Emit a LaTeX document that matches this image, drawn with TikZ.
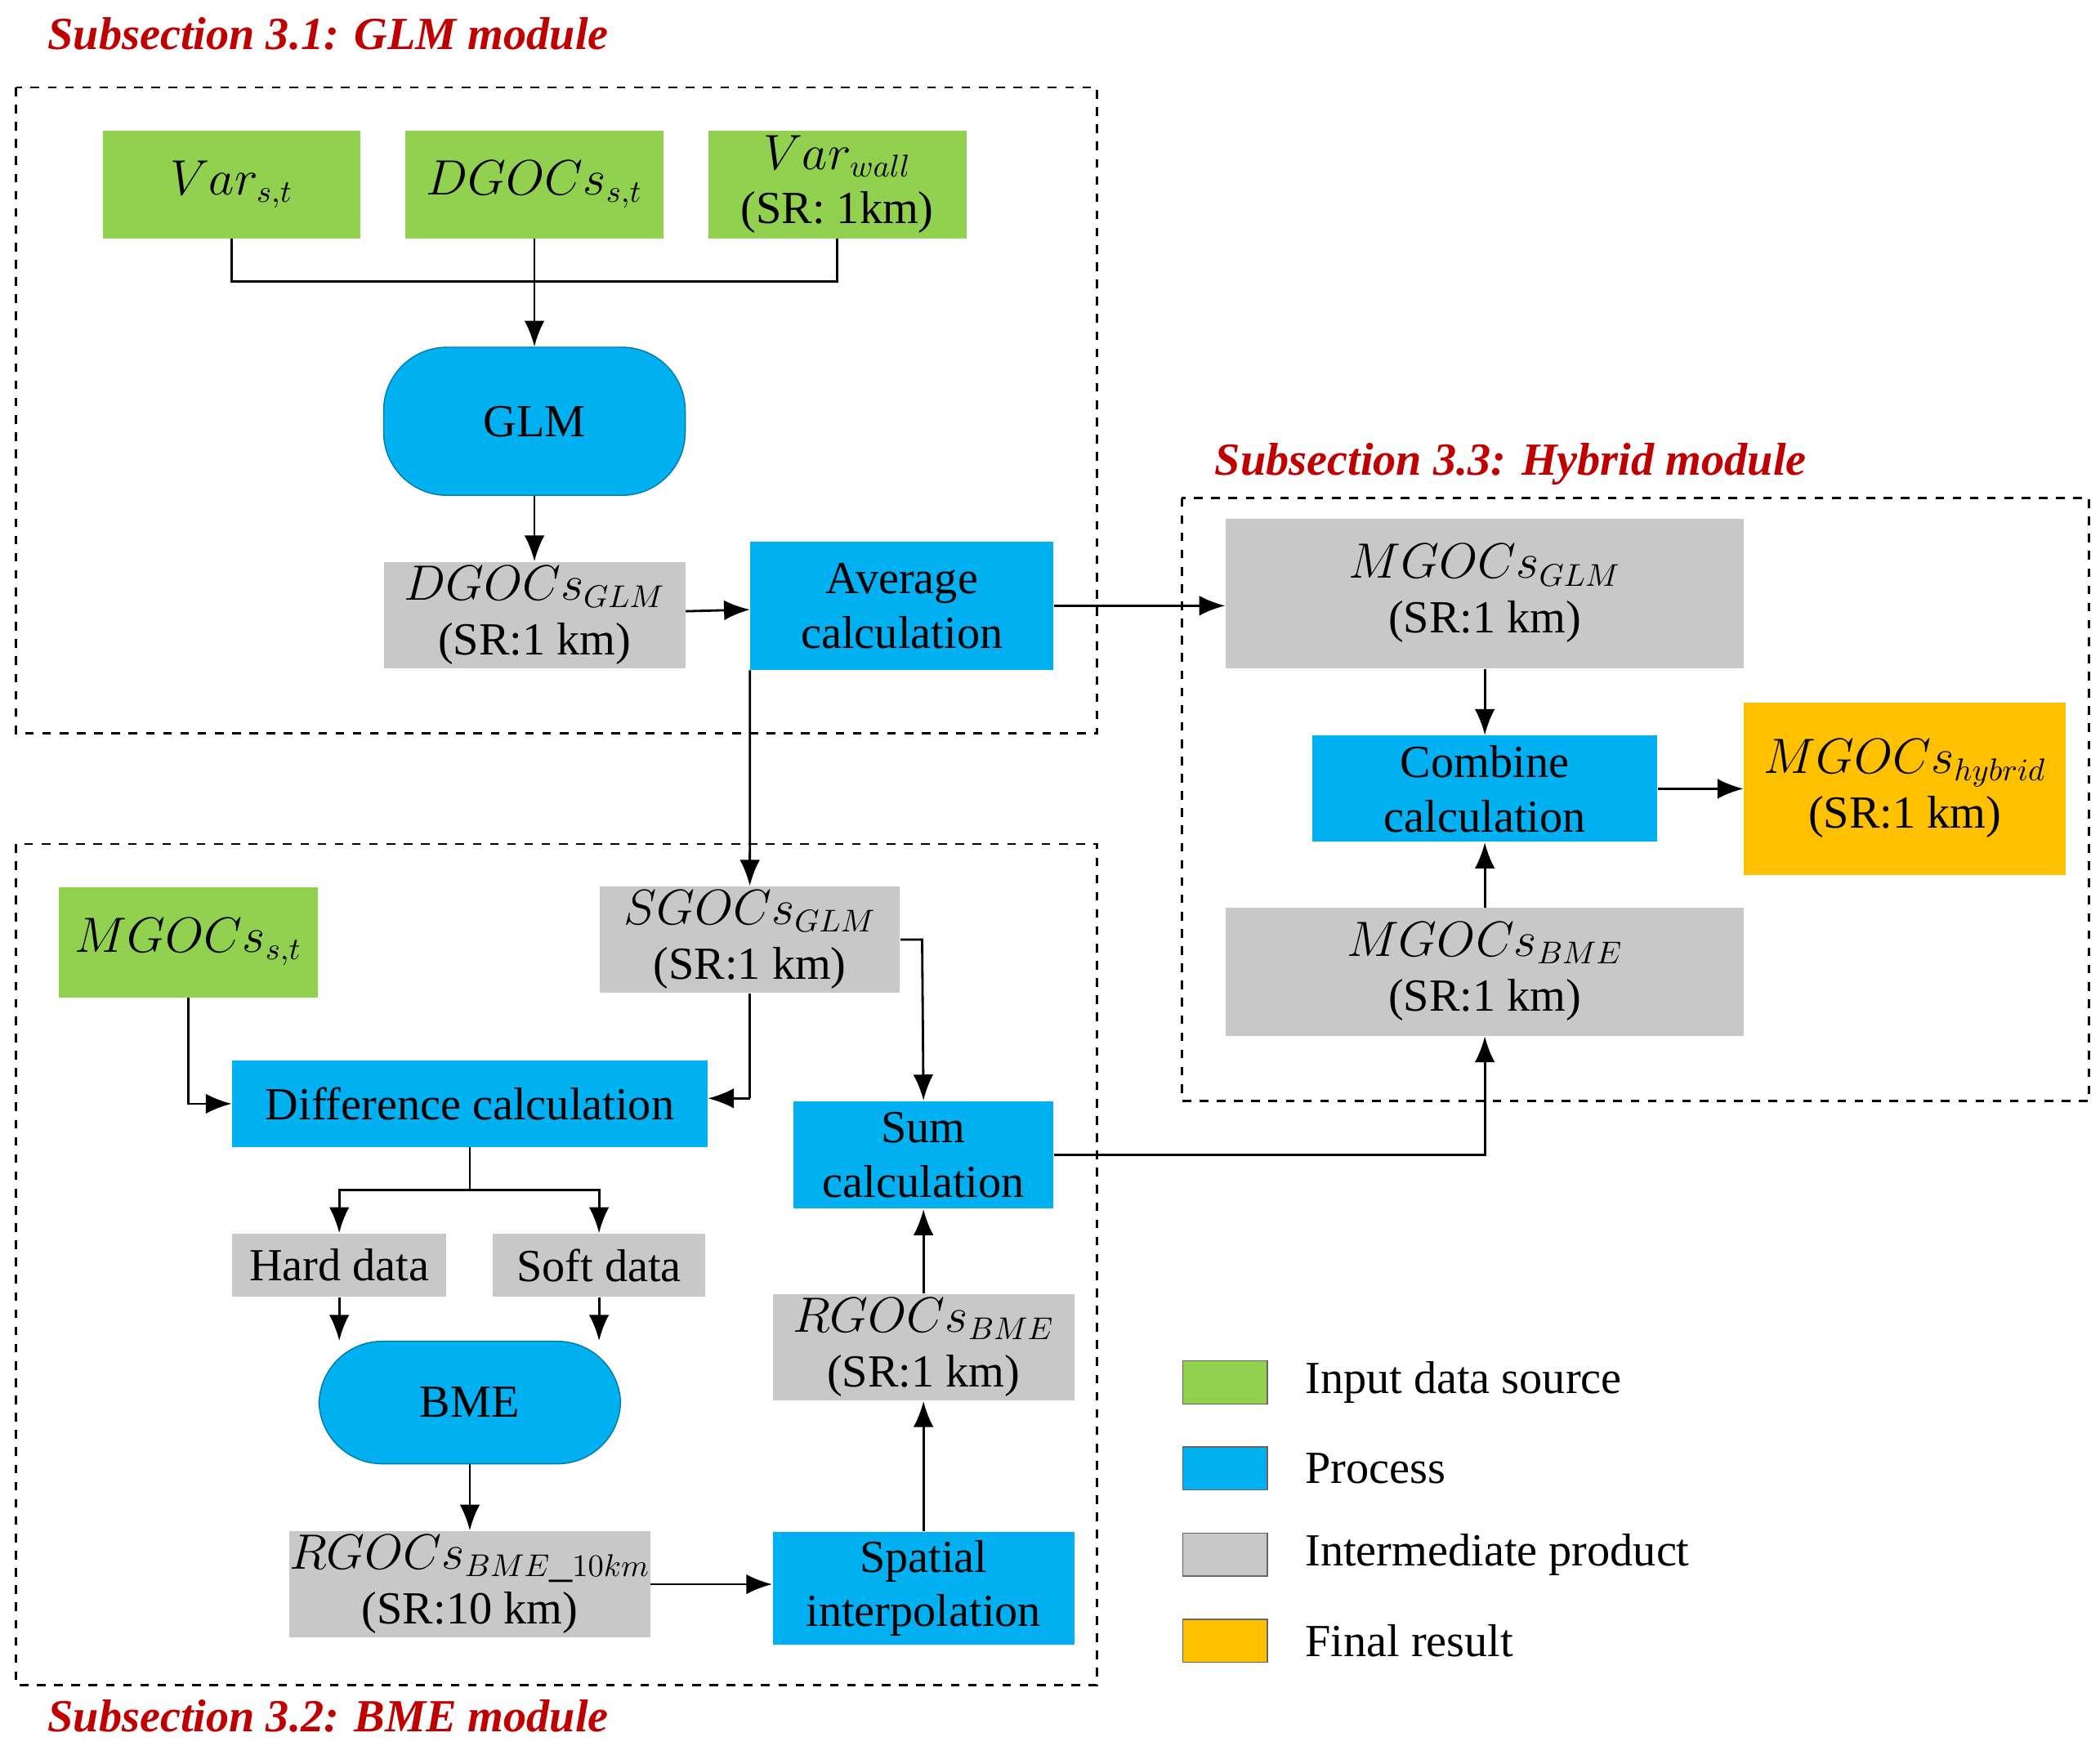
\documentclass[tikz,border=0pt]{standalone}
\usepackage{fontspec}
\setmainfont{Liberation Serif}
\usetikzlibrary{arrows.meta}
\definecolor{ingreen}{HTML}{92D050}
\definecolor{procblue}{HTML}{00B0F0}
\definecolor{midgray}{HTML}{C8C8C8}
\definecolor{resorange}{HTML}{FFC000}
\definecolor{titlered}{HTML}{C00000}
\tikzset{
  box/.style={draw=none, inner sep=0pt, align=center, font=\fontsize{16}{19}\selectfont},
  input/.style={box, fill=ingreen},
  proc/.style={box, fill=procblue},
  procr/.style={box, fill=procblue, draw=procblue!70!black, rounded corners=22pt},
  inter/.style={box, fill=midgray},
  final/.style={box, fill=resorange},
  module/.style={draw, dashed, line width=0.8pt},
  title/.style={anchor=west, text=titlered, font=\fontsize{16}{19}\selectfont\bfseries\itshape},
  arr/.style={-{Latex[length=9pt,width=7pt]}, line width=0.8pt},
  ln/.style={line width=0.8pt},
  legend/.style={anchor=west, font=\fontsize{16}{19}\selectfont}
}
\newcommand{\boxnode}[5]{\node[#1, minimum width=#4*0.01647cm, minimum height=#5*0.01647cm] (#2) at #3}
\begin{document}
\begin{tikzpicture}[x=0.01647cm, y=-0.01647cm]
\useasboundingbox (0,0) rectangle (1560,1297);
% module frames
\draw[module] (12,65) rectangle (815,545);
\draw[module] (12,627) rectangle (815,1252);
\draw[module] (878,370) rectangle (1552,818);
\node[title] (t1) at (28,25) {Subsection 3.1: GLM module};
\node[title] (t3) at (895,345) {Subsection 3.3: Hybrid module};
\node[title] (t2) at (28,1275) {Subsection 3.2: BME module};
% GLM module
\boxnode{input}{var}{(172,137)}{191}{80}{$Var_{s,t}$};
\boxnode{input}{dgoc}{(397,137)}{192}{80}{$DGOCs_{s,t}$};
\boxnode{input}{wall}{(622,137)}{192}{80}{$Var_{wall}$\\(SR: 1km)};
\boxnode{procr}{glm}{(397,313)}{224}{110}{GLM};
\boxnode{inter}{dglm}{(397,457)}{224}{79}{$DGOCs_{GLM}$\\(SR:1 km)};
\boxnode{proc}{avg}{(670,450)}{225}{95}{Average\\calculation};
% hybrid module
\boxnode{inter}{mglm}{(1103,441)}{385}{111}{$MGOCs_{GLM}$\\(SR:1 km)};
\boxnode{proc}{comb}{(1103,586)}{256}{79}{Combine\\calculation};
\boxnode{final}{hyb}{(1415,586)}{239}{128}{$MGOCs_{hybrid}$\\(SR:1 km)};
\boxnode{inter}{mbme}{(1103,722)}{385}{95}{$MGOCs_{BME}$\\(SR:1 km)};
% BME module
\boxnode{input}{mst}{(140,700)}{192}{82}{$MGOCs_{s,t}$};
\boxnode{inter}{sglm}{(557,698)}{223}{79}{$SGOCs_{GLM}$\\(SR:1 km)};
\boxnode{proc}{diff}{(349,820)}{353}{64}{Difference calculation};
\boxnode{inter}{hard}{(252,940)}{159}{47}{Hard data};
\boxnode{inter}{soft}{(445,940)}{158}{47}{Soft data};
\boxnode{procr}{bme}{(349,1042)}{224}{91}{BME};
\boxnode{inter}{r10}{(349,1177)}{255}{79}{$RGOCs_{BME\_10km}$\\(SR:10 km)};
\boxnode{proc}{spat}{(686,1180)}{224}{84}{Spatial\\interpolation};
\boxnode{inter}{rbme}{(686,1001)}{224}{79}{$RGOCs_{BME}$\\(SR:1 km)};
\boxnode{proc}{sum}{(686,858)}{193}{80}{Sum\\calculation};
% connectors
\coordinate (j1) at (397,209);
\draw[ln] (var.south) |- (j1) -| (wall.south);
\draw[arr] (dgoc) -- (glm);
\draw[arr] (glm) -- (dglm);
\draw[arr] (dglm) -- (avg);
\draw[arr] (avg.east) -- (mglm.west |- avg.east);
\draw[arr] (avg.south west) -- (sglm.north);
\draw[arr] (mglm) -- (comb);
\draw[arr] (mbme) -- (comb);
\draw[arr] (comb) -- (hyb);
\draw[arr] (mst.south) |- (diff.west);
\coordinate (j2) at (557,816);
\draw[ln] (sglm.south) -- (j2);
\draw[arr] (j2) -- (diff.east |- j2);
\coordinate (j3) at (685,698);
\draw[arr] (sglm.east) -- (j3) -- (sum.north);
\coordinate (j4) at (349,884);
\draw[ln] (diff.south) -- (j4);
\draw[arr] (j4) -| (hard.north);
\draw[arr] (j4) -| (soft.north);
\draw[arr] (hard.south) -- (hard.south |- bme.north);
\draw[arr] (soft.south) -- (soft.south |- bme.north);
\draw[arr] (bme) -- (r10);
\draw[arr] (r10.east) -- (spat.west |- r10.east);
\draw[arr] (spat) -- (rbme);
\draw[arr] (rbme) -- (sum);
\draw[arr] (sum.east) -| (mbme.south);
% legend
\foreach \c/\t [count=\i] in {ingreen/Input data source, procblue/Process, midgray/Intermediate product, resorange/Final result}{
  \node[draw=black!60, fill=\c, minimum width=63*0.01647cm, minimum height=32*0.01647cm, inner sep=0pt] (lg\i) at (910,963+64*\i) {};
  \node[legend] (lt\i) at (962,963+64*\i) {\t};
}
\end{tikzpicture}
\end{document}
